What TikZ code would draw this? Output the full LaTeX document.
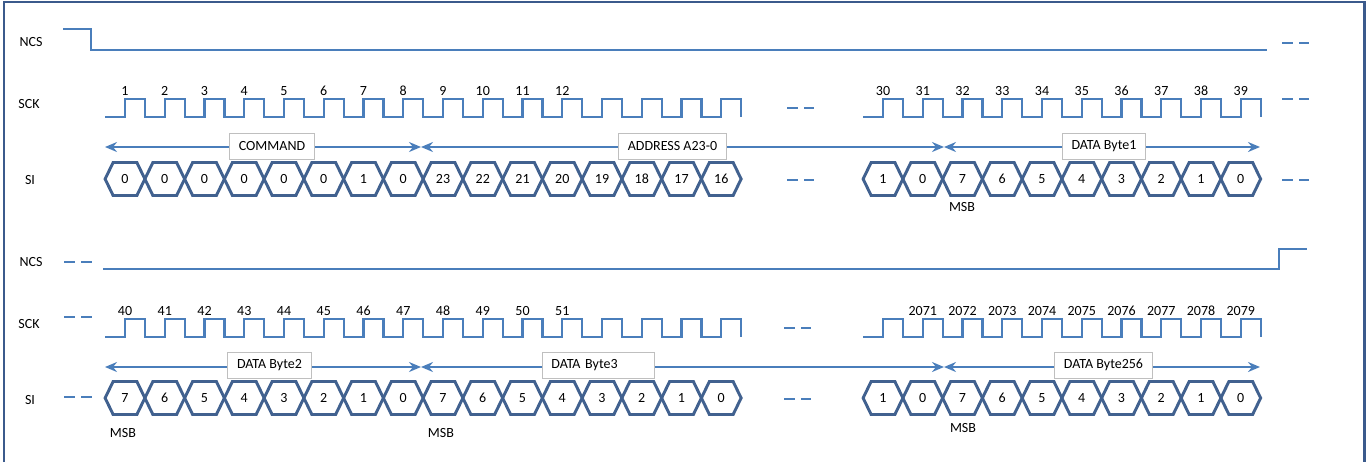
\documentclass[tikz,border=0pt]{standalone}
\usepackage{fontspec}
\setmainfont{Carlito}
\usetikzlibrary{arrows.meta}

\definecolor{wave}{HTML}{4A7EBB}
\definecolor{bitline}{HTML}{41618F}
\definecolor{framecol}{HTML}{3B5A8C}
\definecolor{boxline}{HTML}{BFBFBF}

\newcommand{\bitcell}[4]{%
  \draw[bitbox] ({#1-19.875},#2) -- ++(8,-16.5) -- ++(23.75,0) -- ++(8,16.5)
    -- ++(-8,16.5) -- ++(-23.75,0) -- cycle;
  \node (#4) at ({#1},#2) {#3};}

\begin{document}
\begin{tikzpicture}[x=0.75pt, y=-0.75pt, line width=1.7pt,
  font=\fontsize{10.5}{12}\selectfont,
  >={Stealth[length=9pt,width=7.5pt,inset=3pt]},
  sigline/.style={wave, line width=1.7pt, line join=miter},
  dashgap/.style={wave, line width=1.7pt, dash pattern=on 8.25pt off 4.5pt},
  bitbox/.style={bitline, line width=2.2pt, line join=miter},
  spanarrow/.style={wave, line width=1.5pt, <->},
  tagbox/.style={draw=boxline, line width=0.6pt, fill=white, inner xsep=7pt,
    minimum height=19.5pt}]

  \useasboundingbox (0,0) rectangle (1367,462);
  \draw[framecol, line width=1.7pt] (4,462) -- (4,2.3) -- (1364.5,2.3) -- (1364.5,462);

  % first part
  \node (ncs1) at (31,42) {NCS};
  \node (sck1) at (29,104) {SCK};
  \node (si1) at (30,180) {SI};

  \draw[sigline] (63,29) -- (91,29) -- (91,50) -- (1267,50);
  \draw[dashgap] (1282,43) -- (1309,43);

  \draw[sigline] (105,117) foreach \k in {0,...,15}
    { -- ({125+39.75*\k},117) -- ++(0,-18) -- ++(20,0) -- ++(0,18) };
  \draw[sigline] (863,117) foreach \k in {0,...,9}
    { -- ({883+39.75*\k},117) -- ++(0,-18) -- ++(20,0) -- ++(0,18) };
  \foreach \n [count=\k from 0] in {1,...,12}
    \node (ck\n) at ({125+39.75*\k},91) {\n};
  \foreach \n [count=\k from 0] in {30,...,39}
    \node (ck\n) at ({883+39.75*\k},91) {\n};
  \draw[dashgap] (787,108) -- (814,108);
  \draw[dashgap] (1282,99) -- (1309,99);

  \coordinate (a0) at (105,147);
  \coordinate (a1) at (421,147);
  \coordinate (a2) at (944,147);
  \coordinate (a3) at (1260,147);
  \draw[spanarrow] (a0) -- (a1);
  \draw[spanarrow] (a1) -- (a2);
  \draw[spanarrow] (a2) -- (a3);
  \node[tagbox] (cmd) at (272,146) {COMMAND};
  \node[tagbox] (addr) at (672.5,146) {ADDRESS A23-0};
  \node[tagbox] (byte1) at (1104,146) {DATA Byte1};

  \foreach \v [count=\k from 0] in {0,0,0,0,0,0,1,0,23,22,21,20,19,18,17,16}
    {\bitcell{125+39.75*\k}{179}{\v}{ta\k}}
  \foreach \v [count=\k from 0] in {1,0,7,6,5,4,3,2,1,0}
    {\bitcell{883+39.75*\k}{179}{\v}{tb\k}}
  \draw[dashgap] (787,180) -- (814,180);
  \draw[dashgap] (1282,180) -- (1309,180);
  \node (msb1) at (962,207) {MSB};

  % second part
  \node (ncs2) at (31,262) {NCS};
  \node (sck2) at (29,324) {SCK};
  \node (si2) at (30,400) {SI};

  \draw[dashgap] (64,262) -- (92,262);
  \draw[sigline] (103,269) -- (1279,269) -- (1279,249) -- (1307,249);

  \draw[dashgap] (64,317) -- (92,317);
  \draw[sigline] (105,337) foreach \k in {0,...,15}
    { -- ({125+39.75*\k},337) -- ++(0,-18) -- ++(20,0) -- ++(0,18) };
  \draw[sigline] (863,337) foreach \k in {0,...,9}
    { -- ({883+39.75*\k},337) -- ++(0,-18) -- ++(20,0) -- ++(0,18) };
  \foreach \n [count=\k from 0] in {40,...,51}
    \node (ck\n) at ({125+39.75*\k},311) {\n};
  \foreach \n [count=\k from 1] in {2071,...,2079}
    \node (ck\n) at ({883+39.75*\k},311) {\n};
  \draw[dashgap] (784,328) -- (811,328);

  \coordinate (b0) at (105,367);
  \coordinate (b1) at (421,367);
  \coordinate (b2) at (944,367);
  \coordinate (b3) at (1260,367);
  \draw[spanarrow] (b0) -- (b1);
  \draw[spanarrow] (b1) -- (b2);
  \draw[spanarrow] (b2) -- (b3);
  \node[tagbox] (byte2) at (269.5,365) {DATA Byte2};
  \node[tagbox, text width=70pt, align=left] (byte3) at (598,365) {DATA Byte3};
  \node[tagbox] (byte256) at (1103.5,365) {DATA Byte256};

  \draw[dashgap] (64,397) -- (92,397);
  \foreach \v [count=\k from 0] in {7,6,5,4,3,2,1,0,7,6,5,4,3,2,1,0}
    {\bitcell{125+39.75*\k}{398}{\v}{ba\k}}
  \foreach \v [count=\k from 0] in {1,0,7,6,5,4,3,2,1,0}
    {\bitcell{883+39.75*\k}{398}{\v}{bb\k}}
  \draw[dashgap] (784,399) -- (811,399);
  \node (msb2) at (123,433) {MSB};
  \node (msb3) at (441,433) {MSB};
  \node (msb4) at (963,428) {MSB};

\end{tikzpicture}
\end{document}
